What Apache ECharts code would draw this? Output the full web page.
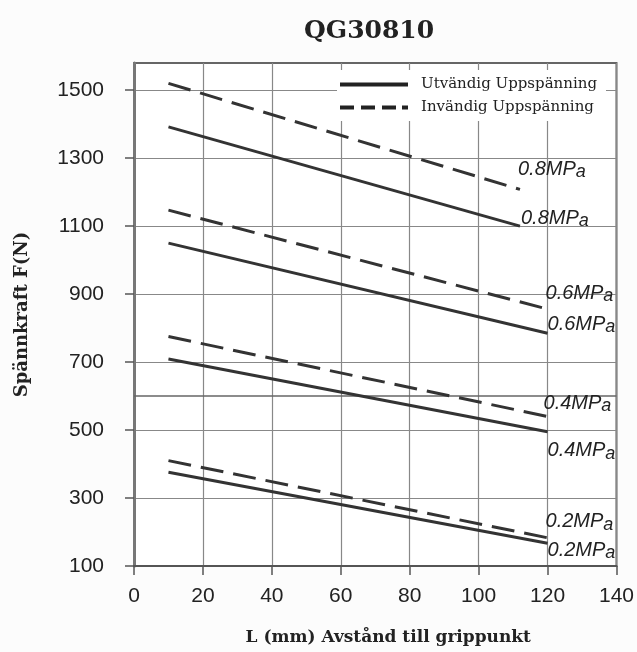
<!DOCTYPE html>
<html>
<head>
<meta charset="utf-8">
<script src="https://cdn.jsdelivr.net/npm/echarts@6/dist/echarts.min.js"></script>
<style>
html,body{margin:0;padding:0;background:#fcfcfc;}
#c{width:637px;height:652px;}
</style>
</head>
<body>
<div id="c"></div>
<script>
// ---- data ----
const xTickLabels = [0, 20, 40, 60, 80, 100, 120, 140];
const yTickLabels = [100, 300, 500, 700, 900, 1100, 1300, 1500];
const pressures = ['0.8', '0.8', '0.6', '0.6', '0.4', '0.4', '0.2', '0.2'];
const kinds = ['dashed', 'solid', 'dashed', 'solid', 'dashed', 'solid', 'dashed', 'solid'];
const dashed08 = [[10, 1520], [112, 1208]];
const solid08  = [[10, 1392], [112, 1100]];
const dashed06 = [[10, 1147], [120, 856]];
const solid06  = [[10, 1050], [120, 785]];
const dashed04 = [[10, 775], [120, 540]];
const solid04  = [[10, 709], [120, 495]];
const dashed02 = [[10, 410], [120, 183]];
const solid02  = [[10, 376], [120, 167]];
const seriesData = [dashed08, solid08, dashed06, solid06, dashed04, solid04, dashed02, solid02];
const legendNames = { solid: 'Utvändig Uppspänning', dashed: 'Invändig Uppspänning' };

// label offsets (styling only)
const labelOffsets = [[-2, -20], [1, -8], [-2, -16], [0, -9], [-4, -13], [0, 19], [-2, -16], [0, 7]];

const chart = echarts.init(document.getElementById('c'), null, { renderer: 'canvas' });

const series = seriesData.map((pts, i) => {
  const kind = kinds[i];
  const s = {
    name: legendNames[kind],
    type: 'line',
    xAxisIndex: 0,
    yAxisIndex: 0,
    symbol: 'none',
    silent: true,
    animation: false,
    data: pts,
    endLabel: {
      show: true,
      distance: 0,
      offset: labelOffsets[i],
      formatter: '{n|' + pressures[i] + 'MP}{s|a}',
      rich: {
        n: { fontFamily: 'Liberation Sans', fontSize: 20, fontStyle: 'italic', color: '#222' },
        s: { fontFamily: 'Liberation Sans', fontSize: 18, fontStyle: 'italic', color: '#222', padding: [6, 0, 0, 0] }
      }
    },
    lineStyle: {
      color: '#333',
      width: 3,
      type: kind === 'dashed' ? [23, 10] : 'solid',
      cap: 'butt'
    },
    itemStyle: { color: '#333' },
    z: 5
  };
  if (i === 0) {
    s.markLine = {
      silent: true,
      symbol: 'none',
      label: { show: false },
      lineStyle: { color: '#666', width: 1.6, type: 'solid' },
      data: [{ yAxis: 600 }],
      z: 1
    };
  }
  return s;
});

const solidIcon = 'path://M0,0H68V4H0Z';
const dashedIcon = 'path://M0,0H14V4H0Z M21,0H35V4H21Z M42,0H56V4H42Z M62,0H68V4H62Z';

chart.setOption({
  backgroundColor: '#fcfcfc',
  animation: false,
  title: {
    text: 'QG30810',
    left: 299,
    top: 14,
    textStyle: { fontFamily: 'DejaVu Serif', fontWeight: 'bold', fontSize: 25, color: '#222' }
  },
  legend: {
    data: [
      { name: legendNames.solid, icon: solidIcon, itemStyle: { color: '#222' } },
      { name: legendNames.dashed, icon: dashedIcon, itemStyle: { color: '#222' } }
    ],
    orient: 'vertical',
    left: 337,
    top: 70,
    itemWidth: 68,
    itemHeight: 4,
    itemGap: 8,
    backgroundColor: '#fff',
    padding: [7, 9, 6, 3],
    textStyle: { fontFamily: 'DejaVu Serif', fontSize: 15, color: '#222', padding: [0, 0, 0, 8], lineHeight: 15 },
    selectedMode: false
  },
  grid: {
    left: 134,
    right: 20,
    top: 63,
    bottom: 86,
    show: true,
    borderColor: '#666',
    borderWidth: 2,
    backgroundColor: '#fff',
    containLabel: false
  },
  xAxis: {
    type: 'value',
    min: 0,
    max: 140,
    interval: 10,
    name: 'L (mm) Avstånd till grippunkt',
    nameLocation: 'middle',
    nameGap: 63,
    nameTextStyle: { fontFamily: 'DejaVu Serif', fontWeight: 'bold', fontSize: 17, color: '#222', padding: [0, 0, 0, 26] },
    axisLine: { show: true, lineStyle: { color: '#555', width: 2 } },
    axisTick: { show: true, customValues: xTickLabels, length: 9, lineStyle: { color: '#555', width: 1.5 } },
    axisLabel: { customValues: xTickLabels, margin: 20, fontFamily: 'Liberation Sans', fontSize: 21, color: '#222', formatter: v => String(v) },
    splitLine: { show: true, lineStyle: { color: '#888', width: 1.2 } }
  },
  yAxis: {
    type: 'value',
    min: 100,
    max: 1580,
    interval: 100,
    name: 'Spännkraft F(N)',
    nameLocation: 'middle',
    nameGap: 103,
    nameTextStyle: { fontFamily: 'DejaVu Serif', fontWeight: 'bold', fontSize: 18, color: '#222' },
    axisLine: { show: true, lineStyle: { color: '#777', width: 3 } },
    axisTick: { show: true, customValues: yTickLabels, length: 9, lineStyle: { color: '#555', width: 1.5 } },
    axisLabel: { customValues: yTickLabels, margin: 30, fontFamily: 'Liberation Sans', fontSize: 21, color: '#222', formatter: v => String(v) },
    splitLine: { show: true, lineStyle: { color: '#888', width: 1.2 } }
  },
  series: series
});
</script>
</body>
</html>
